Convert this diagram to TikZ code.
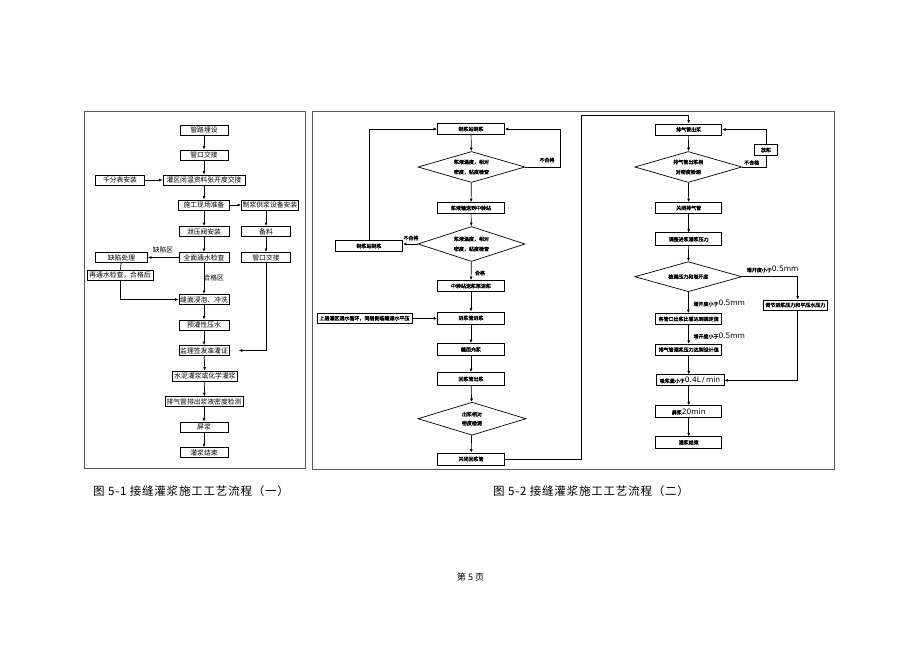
\documentclass[tikz,border=0pt]{standalone}
\usepackage{fontspec}
\newfontfamily\cjk{Noto Sans CJK SC}
\newfontfamily\cjkb{Noto Sans CJK SC}[FakeBold=2]
\newfontfamily\cjkcap{Noto Sans CJK SC}[LetterSpace=7]
\newfontfamily\numf{DejaVu Sans}
\usetikzlibrary{arrows.meta,shapes.geometric}
\newcommand{\nm}[1]{{\numf\fontsize{7.5}{8}\selectfont #1}}
\begin{document}
\begin{tikzpicture}[x=1pt,y=-1pt,
  lb/.style={draw, line width=0.9pt, inner sep=0pt, minimum height=10pt, minimum width=#1, font=\cjk\fontsize{6.8}{8}\selectfont},
  lb/.default=50pt,
  rb/.style={draw, line width=0.7pt, inner sep=0pt, minimum height=11pt, minimum width=#1, font=\cjkb\fontsize{5}{6}\selectfont},
  rb/.default=66pt,
  dm/.style={draw, diamond, aspect=3.4, line width=0.7pt, inner sep=0pt, minimum width=107pt, minimum height=31pt, align=center, font=\cjkb\fontsize{5}{10}\selectfont},
  lab/.style={inner sep=0pt, font=\cjkb\fontsize{5}{6}\selectfont},
  llab/.style={inner sep=0pt, font=\cjk\fontsize{6.8}{8}\selectfont},
  arr/.style={-{Latex[length=3.5pt,width=3pt]}, line width=0.7pt},
  ln/.style={line width=0.7pt},
  frame/.style={draw=black!65, line width=0.9pt},
  captext/.style={anchor=west, inner sep=0pt, font=\cjkcap\fontsize{11.5}{13}\selectfont}
]
\useasboundingbox (0,0) rectangle (920,651);
\fill[white] (0,0) rectangle (920,651);

% frames
\draw[frame] (84.5,111) rectangle (305,468);
\draw[frame] (312.5,111.5) rectangle (834,469);

% ---------------- left flowchart ----------------
\node[lb=48pt] (L1) at (204,130) {管路埋设};
\node[lb=48pt] (L2) at (204,155) {管口交接};
\node[lb=49pt] (L3a) at (120,180) {千分表安装};
\node[lb=82pt] (L3) at (204,180) {灌区闭温资料张开度交接};
\node[lb=51pt] (L4) at (204,205) {施工现场准备};
\node[lb=57pt] (L4b) at (270,205) {制浆供浆设备安装};
\node[lb] (L5) at (204,231.5) {泄压阀安装};
\node[lb=49pt] (L5b) at (266,231.5) {备料};
\node[lb] (L6) at (204,257.5) {全面通水检查};
\node[lb=49pt] (L6b) at (266,257.5) {管口交接};
\node[lb=52pt] (L6a) at (121.5,257.5) {缺陷处理};
\node[lb=66pt] (L7a) at (120,275) {再通水检查，合格后};
\node[lb] (L7) at (204,299.5) {缝面浸泡、冲洗};
\node[lb] (L8) at (204,325) {预灌性压水};
\node[lb] (L9) at (204,350.5) {监理签发准灌证};
\node[lb=65pt] (L10) at (205,376) {水泥灌浆或化学灌浆};
\node[lb=78pt] (L11) at (204,401.7) {排气管排出浆液密度检测};
\node[lb=48pt] (L12) at (204,427) {屏浆};
\node[lb=48pt] (L13) at (204,452.7) {灌浆结束};

\node[llab] (lq) at (163,249.7) {缺陷区};
\node[llab] (lh) at (213.7,278) {合格区};

\draw[arr] (L1) -- (L2);
\draw[arr] (L2) -- (L3);
\draw[arr] (L3a) -- (L3);
\draw[arr] (L3) -- (L4);
\draw[arr] (L4) -- (L4b);
\draw[arr] (L4) -- (L5);
\draw[arr] (L4b.south -| L5b) -- (L5b);
\draw[arr] (L5) -- (L6);
\draw[arr] (L5b) -- (L6b);
\draw[arr] (L6) -- (L6a);
\draw[ln] (L6a) -- (L7a);
\draw[arr] (L7a.south) |- (L7.west);
\draw[arr] (L6) -- (L7);
\draw[arr] (L7) -- (L8);
\draw[arr] (L8) -- (L9);
\draw[arr] (L9) -- (L10);
\draw[arr] (L10) -- (L11);
\draw[arr] (L11) -- (L12);
\draw[arr] (L12) -- (L13);
\draw[arr] (L6b.south) |- ([xshift=9.3pt]L9.east);

% ---------------- right flowchart, column 1 ----------------
\node[rb=67pt] (R1) at (471,129) {制浆站制浆};
\node[dm] (D1) at (471.5,167) {浆液温度，相对\\密度，粘度检查};
\node[rb=67pt] (R2) at (471,208) {浆液输送到中转站};
\node[dm, minimum height=35pt] (D2) at (471.5,244) {浆液温度，相对\\密度，粘度检查};
\node[rb=67pt, minimum height=11.5pt] (R2L) at (369,246) {制浆站制浆};
\node[rb=67pt] (R3) at (471,286) {中转站送浆泵进浆};
\node[rb=67pt, minimum height=12pt] (R4) at (471,318) {进浆管进浆};
\node[rb=95pt, minimum height=10pt] (R4L) at (364.5,318.3) {上层灌区通水循环，同层侧临缝通水平压};
\node[rb=67pt, minimum height=12pt] (R5) at (471,349.5) {缝面充浆};
\node[rb=67pt, minimum height=13pt] (R6) at (471,379) {回浆管出浆};
\node[dm, minimum width=108pt, minimum height=33pt, font=\cjkb\fontsize{5}{9}\selectfont] (D3) at (472,418.7) {出浆相对\\密度检测};
\node[rb=67pt, minimum height=12pt] (R7) at (471,459) {关闭回浆管};

\node[lab] (n1) at (547,160) {不合格};
\node[lab] (n2) at (411,238) {不合格};
\node[lab] (n3) at (480,273) {合格};

\coordinate (c1) at (560.3,167);
\coordinate (c2) at (581.7,115);

\draw[arr] (R1) -- (D1);
\draw[arr] (D1.east) -- (c1) |- (R1.east);
\draw[arr] (D1) -- (R2);
\draw[arr] (R2) -- (D2);
\draw[arr] (D2.west) -- (D2.west -| R2L.east);
\draw[arr] (R2L.north) |- (R1.west);
\draw[arr] (D2) -- (R3);
\draw[arr] (R3) -- (R4);
\draw[arr] (R4L) -- (R4L -| R4.west);
\draw[arr] (R4) -- (R5);
\draw[arr] (R5) -- (R6);
\draw[arr] (R6) -- (D3);
\draw[arr] (D3) -- (R7);

% ---------------- right flowchart, column 2 ----------------
\node[rb] (S1) at (688.7,129.5) {排气管出浆};
\node[dm] (D4) at (688.3,167) {排气管出浆相\\对密度检测};
\node[rb=23pt, minimum height=11pt] (P) at (766,150) {放浆};
\node[rb] (S2) at (688.7,208) {关闭排气管};
\node[rb, minimum height=13pt] (S3) at (688.7,239.3) {调整进浆灌浆压力};
\node[dm, minimum height=30pt] (D5) at (688.3,276.7) {检测压力和增开度};
\node[rb=64pt, minimum height=10pt] (SR) at (795.3,305) {调节进浆压力和平压水压力};
\node[rb] (S4) at (688.7,319) {各管口出浆比重达到规定值};
\node[rb] (S5) at (688.7,349.7) {排气管灌浆压力达到设计值};
\node[rb=68pt] (S6) at (690,380.3) {吸浆量小于\nm{0.4L\,/\,min}};
\node[rb, minimum height=12pt] (S7) at (688.7,411.7) {屏浆\nm{20min}};
\node[rb, minimum height=11.5pt] (S8) at (688.7,442.5) {灌浆结束};

\node[lab] (n4) at (751.7,162.7) {不合格};
\node[lab, anchor=west] (n5) at (746.7,269.3) {增开度小于\nm{0.5mm}};
\node[lab, anchor=west] (n6) at (693.3,303.3) {增开度小于\nm{0.5mm}};
\node[lab, anchor=west] (n7) at (693.3,335.7) {增开度小于\nm{0.5mm}};

\coordinate (c3) at (766,167);
\coordinate (c4) at (797.7,276.7);

\draw[arr] (R7.east) -| (c2) -| (S1.north);
\draw[arr] (S1) -- (D4);
\draw[ln] (D4.east) -- (c3) -- (P.south);
\draw[arr] (P.north) |- (S1.east);
\draw[arr] (D4) -- (S2);
\draw[arr] (S2) -- (S3);
\draw[arr] (S3) -- (D5);
\draw[arr] (D5.east) -- (c4) -- (c4 |- SR.north);
\draw[arr] (D5) -- (D5 |- S4.north);
\draw[arr] (S4.south -| S5) -- (S5);
\draw[arr] (S5.south) -- (S5.south |- S6.north);
\draw[arr] (SR.south -| c4) |- (S6.east);
\draw[arr] (S6.south -| S7) -- (S7);
\draw[arr] (S7) -- (S8);

% ---------------- captions ----------------
\node[captext] (cap1) at (93,491) {图 5-1 接缝灌浆施工工艺流程（一）};
\node[captext] (cap2) at (493,491) {图 5-2 接缝灌浆施工工艺流程（二）};
\node[inner sep=0pt, font=\cjk\fontsize{9}{10}\selectfont] (page) at (470.5,577) {第 5 页};
\end{tikzpicture}
\end{document}
